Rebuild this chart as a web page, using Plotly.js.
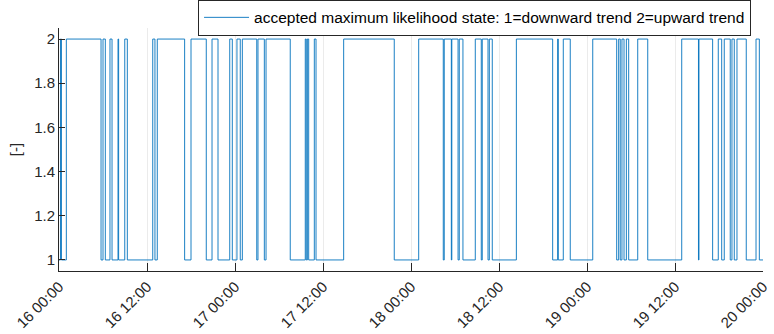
<!DOCTYPE html>
<html>
<head>
<meta charset="utf-8">
<script src="https://cdn.plot.ly/plotly-3.0.1.min.js"></script>
<style>html,body{margin:0;padding:0;background:#fff;}#chart{width:774px;height:334px;}</style>
</head>
<body>
<div id="chart"></div>
<script>
// transition times (state holds from this time until the next one)
const times = [
  "2023-01-16 00:00","2023-01-16 00:12","2023-01-16 00:20","2023-01-16 01:00",
  "2023-01-16 05:44","2023-01-16 06:00","2023-01-16 06:19","2023-01-16 06:57",
  "2023-01-16 07:14","2023-01-16 08:03","2023-01-16 08:08","2023-01-16 08:58",
  "2023-01-16 09:19","2023-01-16 12:47","2023-01-16 13:05","2023-01-16 13:24",
  "2023-01-16 17:08","2023-01-16 18:00","2023-01-16 20:05","2023-01-16 20:52",
  "2023-01-16 21:41","2023-01-16 23:17","2023-01-16 23:38","2023-01-17 00:16",
  "2023-01-17 00:43","2023-01-17 01:00","2023-01-17 02:58","2023-01-17 03:08",
  "2023-01-17 04:00","2023-01-17 04:14","2023-01-17 07:32","2023-01-17 09:35",
  "2023-01-17 09:43","2023-01-17 09:52","2023-01-17 10:03","2023-01-17 10:49",
  "2023-01-17 11:03","2023-01-17 14:49","2023-01-17 21:43","2023-01-18 01:03",
  "2023-01-18 04:24","2023-01-18 04:32","2023-01-18 05:30","2023-01-18 05:34",
  "2023-01-18 06:25","2023-01-18 06:35","2023-01-18 07:05","2023-01-18 08:46",
  "2023-01-18 09:35","2023-01-18 09:43","2023-01-18 10:30","2023-01-18 10:41",
  "2023-01-18 11:05","2023-01-18 14:22","2023-01-18 19:19","2023-01-18 20:00",
  "2023-01-18 20:05","2023-01-18 20:46","2023-01-18 21:43","2023-01-19 00:47",
  "2023-01-19 04:03","2023-01-19 04:19","2023-01-19 04:32","2023-01-19 04:46",
  "2023-01-19 05:03","2023-01-19 05:22","2023-01-19 05:41","2023-01-19 06:55",
  "2023-01-19 08:17","2023-01-19 12:55","2023-01-19 15:12","2023-01-19 15:16",
  "2023-01-19 17:08","2023-01-19 17:54","2023-01-19 18:22","2023-01-19 18:43",
  "2023-01-19 19:32","2023-01-19 19:46","2023-01-19 20:05","2023-01-19 20:27",
  "2023-01-19 21:43","2023-01-19 23:03","2023-01-19 23:30","2023-01-20 00:00"
];
const states = [
  1,2,1,2, 1,2,1,2, 1,2,1,2, 1,2,1,2, 1,2,1,2, 1,2,1,2, 1,2,1,2, 1,2,1,2,
  1,2,1,2, 1,2,1,2, 1,2,1,2, 1,2,1,2, 1,2,1,2, 1,2,1,2, 1,2,1,2, 1,2,1,2,
  1,2,1,2, 1,2,1,2, 1,2,1,2, 1,2,1,2, 1,2,1,1
];
const xTickVals = ["2023-01-16 00:00","2023-01-16 12:00","2023-01-17 00:00","2023-01-17 12:00",
  "2023-01-18 00:00","2023-01-18 12:00","2023-01-19 00:00","2023-01-19 12:00","2023-01-20 00:00"];
const xTickText = ["16 00:00","16 12:00","17 00:00","17 12:00","18 00:00","18 12:00","19 00:00","19 12:00","20 00:00"];
const yTickVals = [1,1.2,1.4,1.6,1.8,2];
const yTickText = ["1","1.2","1.4","1.6","1.8","2"];

const trace = {
  x: times, y: states, type: 'scatter', mode: 'lines',
  line: {shape: 'hv', color: '#0072BD', width: 0.9},
  name: 'accepted maximum likelihood state: 1=downward trend 2=upward trend'
};
const layout = {
  width: 774, height: 334,
  margin: {l: 59, r: 11, t: 28, b: 63, autoexpand: false},
  paper_bgcolor: '#fff', plot_bgcolor: '#fff',
  font: {family: 'Liberation Sans, Arial, sans-serif', size: 14, color: '#262626'},
  showlegend: true,
  legend: {x: 0.983, y: 0.968, xanchor: 'right', yanchor: 'bottom',
    bgcolor: '#fff', bordercolor: '#262626', borderwidth: 1, itemwidth: 45,
    font: {size: 15.5, color: '#000'}},
  xaxis: {
    type: 'date', range: ["2023-01-16 00:00","2023-01-20 00:00"],
    tickmode: 'array', tickvals: xTickVals, ticktext: xTickText,
    tickangle: -45, ticks: 'inside', ticklen: 8, tickcolor: '#262626',
    showline: true, linecolor: '#262626', linewidth: 1,
    showgrid: true, gridcolor: '#ebebeb', gridwidth: 1, zeroline: false,
    tickfont: {size: 15, color: '#262626'}
  },
  yaxis: {
    range: [0.95, 2.05], tickmode: 'array', tickvals: yTickVals, ticktext: yTickText,
    ticks: 'inside', ticklen: 6, tickcolor: '#262626',
    showline: true, linecolor: '#262626', linewidth: 1,
    showgrid: false, zeroline: false,
    title: {text: '[-]', font: {size: 15, color: '#262626'}, standoff: 8},
    tickfont: {size: 15, color: '#262626'}
  }
};
Plotly.newPlot('chart', [trace], layout, {displayModeBar: false, staticPlot: true});
</script>
</body>
</html>
